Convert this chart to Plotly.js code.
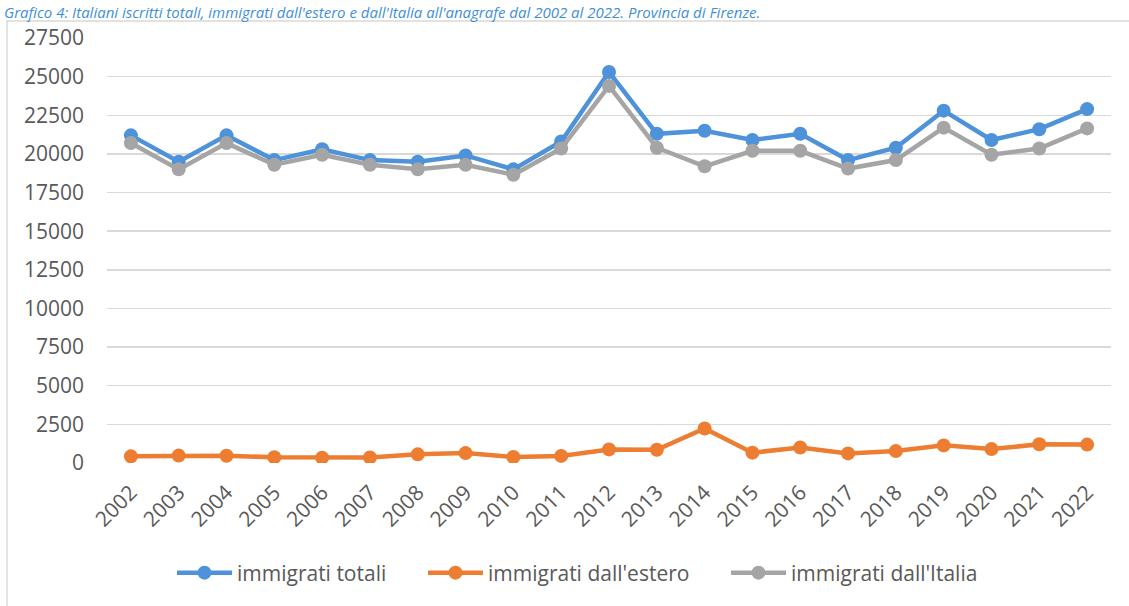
<!DOCTYPE html>
<html>
<head>
<meta charset="utf-8">
<script src="https://cdn.plot.ly/plotly-3.0.1.min.js"></script>
<style>
html,body{margin:0;padding:0;background:#fff;}
#chart{width:1129px;height:606px;}
</style>
</head>
<body>
<div id="chart"></div>
<script>
const years = ["2002","2003","2004","2005","2006","2007","2008","2009","2010","2011","2012","2013","2014","2015","2016","2017","2018","2019","2020","2021","2022"];
const immigratiTotali = [21200,19500,21200,19600,20300,19600,19500,19900,19000,20800,25300,21300,21500,20900,21300,19600,20400,22800,20900,21600,22900];
const immigratiEstero = [430,480,470,370,340,360,560,640,390,460,880,860,2230,670,1000,620,770,1140,900,1210,1190];
const immigratiItalia = [20700,19000,20700,19300,19950,19300,19000,19300,18650,20350,24400,20400,19200,20200,20200,19050,19600,21700,19950,20350,21650];
const yTicks = [0,2500,5000,7500,10000,12500,15000,17500,20000,22500,25000,27500];
const titleText = "Grafico 4: Italiani iscritti totali, immigrati dall'estero e dall'Italia all'anagrafe dal 2002 al 2022. Provincia di Firenze.";

const W = 1129, H = 606;
const M = {l:107, r:18, t:38, b:143};
const pw = W - M.l - M.r, ph = H - M.t - M.b;
const px = x => (x - M.l) / pw;
const py = y => (H - M.b - y) / ph;

function series(name, y, color, leg){
  return {
    type:'scatter', mode:'lines+markers', name:name, x:years, y:y,
    line:{color:color, width:4.5},
    marker:{color:color, size:14},
    legend:leg
  };
}

const data = [
  series('immigrati totali', immigratiTotali, '#4E93DA', 'legend'),
  series("immigrati dall'estero", immigratiEstero, '#ED7D31', 'legend2'),
  series("immigrati dall'Italia", immigratiItalia, '#A5A5A5', 'legend3')
];

const font = {family:'"Open Sans", "Noto Sans", sans-serif', size:21, color:'#595959'};

function leg(xpx){
  return {orientation:'h', x:px(xpx), xanchor:'left', y:py(573), yanchor:'middle',
          font:font, itemwidth:55, bgcolor:'rgba(0,0,0,0)', borderwidth:0};
}

const layout = {
  width:W, height:H,
  margin:M,
  paper_bgcolor:'#fff', plot_bgcolor:'#fff',
  font:font,
  showlegend:true,
  legend:leg(172),
  legend2:leg(423),
  legend3:leg(726),
  xaxis:{type:'category', range:[-0.5,20.5], tickangle:-45, showgrid:false, zeroline:false,
         showline:false, ticks:'', tickfont:font, ticklabelstandoff:12, automargin:false},
  yaxis:{range:[0,27500], tickvals:yTicks, ticktext:yTicks.map(String), showgrid:true,
         gridcolor:'#D9D9D9', gridwidth:1.5, zeroline:false, showline:false, ticks:'',
         tickfont:font, ticklabelstandoff:22, automargin:false},
  shapes:[{type:'rect', xref:'paper', yref:'paper', x0:px(7), x1:px(1140), y0:py(620), y1:py(21),
           line:{color:'#D9D9D9', width:1.5}, fillcolor:'rgba(0,0,0,0)', layer:'below'}],
  annotations:[{xref:'paper', yref:'paper', x:px(2), y:py(0), xanchor:'left', yanchor:'top',
    text:'<i>'+titleText+'</i>', showarrow:false,
    font:{family:'"Open Sans", "Noto Sans", sans-serif', size:15, color:'#3F8FD8'}}]
};

Plotly.newPlot('chart', data, layout, {displayModeBar:false, staticPlot:true});
</script>
</body>
</html>
